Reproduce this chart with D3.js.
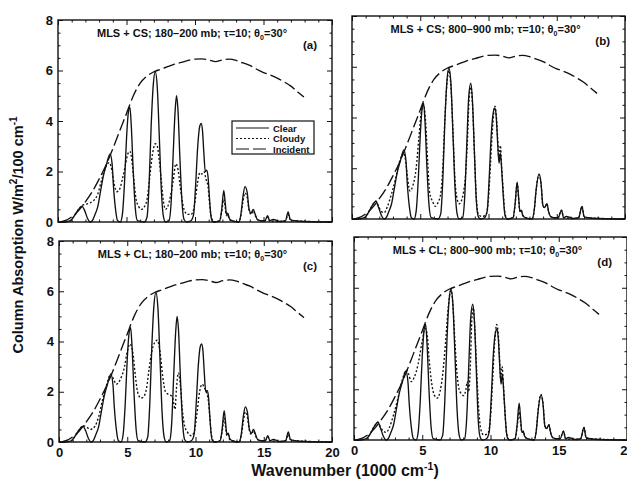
<!DOCTYPE html>
<html>
<head>
<meta charset="utf-8">
<script src="https://cdn.jsdelivr.net/npm/d3@7"></script>
<style>
  body { margin: 0; background: #fff; }
  svg text { font-family: "Liberation Sans", Arial, sans-serif; font-weight: bold; fill: #111; }
</style>
</head>
<body>
<div id="graph"></div>
<script>
// valores: [número de onda (1000 cm-1), absorción]
const incident = [[0.2,0],[0.5,0.05],[1,0.2],[1.5,0.45],[2,0.8],[2.5,1.2],[3,1.7],[3.5,2.25],[4,2.9],[4.5,3.6],[5,4.3],[5.5,5.0],[6,5.5],[6.5,5.78],[7,5.95],[7.5,6.05],[8,6.15],[8.5,6.25],[9,6.32],[9.5,6.4],[10,6.45],[10.5,6.46],[11,6.42],[11.5,6.35],[12,6.42],[12.5,6.45],[13,6.4],[13.5,6.3],[14,6.2],[14.5,6.05],[15,5.92],[15.5,5.82],[16,5.7],[16.5,5.55],[17,5.38],[17.5,5.15],[17.95,4.95]];

// cielo despejado, capa 180-200 mb
const clearHigh = [[0,0],[0.5,0],[0.9,0.05],[1.2,0.25],[1.5,0.5],[1.75,0.62],[1.95,0.45],[2.15,0.15],[2.35,0],[2.5,0.05],[2.7,0.3],[2.9,0.6],[3.1,1.2],[3.3,1.8],[3.55,2.3],[3.8,2.7],[3.95,2.3],[4.05,1.4],[4.2,0.5],[4.35,0.05],[4.55,0],[4.7,0.3],[4.85,1.5],[5.0,3.3],[5.15,4.4],[5.25,4.55],[5.35,3.8],[5.5,1.9],[5.65,0.5],[5.8,0.05],[6.3,0],[6.5,0.2],[6.65,1.5],[6.8,3.8],[6.95,5.4],[7.1,5.95],[7.25,5.3],[7.4,3.3],[7.55,1.2],[7.7,0.2],[7.85,0],[8.1,0.05],[8.25,0.7],[8.4,2.6],[8.55,4.4],[8.65,5.0],[8.75,4.5],[8.9,2.5],[9.05,0.8],[9.2,0.1],[9.4,0],[9.7,0.05],[9.9,0.3],[10.05,1.5],[10.2,3.0],[10.35,3.8],[10.45,3.9],[10.55,3.6],[10.65,2.7],[10.75,2.0],[10.85,2.05],[10.95,1.8],[11.05,1.0],[11.15,0.3],[11.25,0.05],[11.4,0],[11.8,0.05],[11.95,0.5],[12.1,1.25],[12.2,0.8],[12.3,0.3],[12.4,0.35],[12.5,0.15],[12.7,0.05],[13.2,0],[13.35,0.3],[13.5,1.0],[13.65,1.4],[13.8,1.2],[13.95,0.5],[14.1,0.35],[14.25,0.5],[14.4,0.3],[14.55,0.1],[14.8,0.05],[15.1,0.05],[15.3,0.25],[15.45,0.05],[15.7,0.1],[16.2,0.02],[16.6,0.05],[16.8,0.4],[16.95,0.1],[17.3,0.05],[18,0.02],[20,0]];

// cielo despejado, capa 800-900 mb
const clearLow = [[0,0],[0.5,0],[0.9,0.05],[1.2,0.25],[1.5,0.55],[1.75,0.7],[1.95,0.45],[2.15,0.15],[2.35,0],[2.5,0.05],[2.7,0.3],[2.9,0.6],[3.1,1.2],[3.3,1.8],[3.55,2.3],[3.8,2.72],[3.95,2.3],[4.05,1.4],[4.2,0.5],[4.35,0.05],[4.55,0],[4.7,0.3],[4.85,1.5],[5.0,3.3],[5.15,4.4],[5.25,4.55],[5.35,3.8],[5.5,1.9],[5.65,0.5],[5.8,0.05],[6.3,0],[6.5,0.2],[6.65,1.5],[6.8,3.8],[6.95,5.4],[7.1,5.95],[7.25,5.3],[7.4,3.3],[7.55,1.2],[7.7,0.2],[7.85,0],[8.1,0.05],[8.25,0.8],[8.4,2.8],[8.55,4.8],[8.7,5.35],[8.82,4.7],[8.97,2.6],[9.1,0.8],[9.25,0.1],[9.4,0],[9.7,0.05],[9.9,0.3],[10.05,1.6],[10.2,3.3],[10.35,4.2],[10.47,4.38],[10.57,4.0],[10.67,3.0],[10.77,2.2],[10.87,2.6],[10.97,1.9],[11.07,1.0],[11.17,0.3],[11.27,0.05],[11.4,0],[11.8,0.05],[11.95,0.6],[12.1,1.45],[12.2,0.9],[12.3,0.3],[12.4,0.35],[12.5,0.15],[12.7,0.05],[13.2,0],[13.35,0.35],[13.5,1.2],[13.7,1.78],[13.85,1.4],[13.98,0.55],[14.1,0.45],[14.28,0.6],[14.4,0.3],[14.55,0.1],[14.8,0.05],[15.1,0.05],[15.35,0.35],[15.5,0.05],[15.7,0.1],[16.2,0.02],[16.6,0.05],[16.85,0.5],[17.0,0.1],[17.3,0.05],[18,0.02],[20,0]];

// nublado: (a) CS 180-200, (b) CS 800-900, (c) CL 180-200, (d) CL 800-900
const cloudyA = [[0,0],[0.9,0.05],[1.2,0.25],[1.5,0.5],[1.75,0.65],[2.0,0.7],[2.3,0.75],[2.6,0.85],[2.9,1.1],[3.2,1.7],[3.5,2.2],[3.75,2.35],[3.95,2.0],[4.1,1.5],[4.3,1.2],[4.5,1.3],[4.7,1.7],[4.9,2.2],[5.1,2.7],[5.25,2.8],[5.4,2.4],[5.55,1.6],[5.7,0.9],[5.9,0.6],[6.1,0.5],[6.3,0.6],[6.5,0.9],[6.7,1.8],[6.9,2.7],[7.1,3.1],[7.25,3.0],[7.4,2.4],[7.55,1.6],[7.7,0.8],[7.85,0.5],[8.0,0.6],[8.2,1.0],[8.4,1.6],[8.6,2.3],[8.75,2.1],[8.9,1.5],[9.05,0.9],[9.2,0.5],[9.45,0.3],[9.7,0.3],[9.9,0.5],[10.05,1.0],[10.2,1.6],[10.35,1.95],[10.5,1.9],[10.65,2.0],[10.8,1.7],[10.95,1.4],[11.05,0.8],[11.15,0.3],[11.3,0.05],[11.4,0],[11.8,0.05],[11.95,0.4],[12.1,0.9],[12.2,0.6],[12.3,0.25],[12.4,0.3],[12.5,0.1],[12.7,0.05],[13.2,0],[13.35,0.25],[13.5,0.8],[13.65,1.15],[13.8,1.0],[13.95,0.45],[14.1,0.3],[14.25,0.45],[14.4,0.25],[14.55,0.1],[14.8,0.05],[15.1,0.05],[15.3,0.2],[15.45,0.05],[16.2,0.02],[16.6,0.05],[16.8,0.3],[16.95,0.1],[17.3,0.05],[20,0]];

const cloudyB = [[0,0],[0.9,0.05],[1.2,0.25],[1.5,0.55],[1.75,0.7],[1.95,0.5],[2.15,0.3],[2.35,0.25],[2.6,0.5],[2.9,1.0],[3.2,1.6],[3.5,2.3],[3.8,2.6],[3.95,2.2],[4.1,1.5],[4.25,1.1],[4.45,1.3],[4.7,2.0],[4.9,3.2],[5.1,4.3],[5.25,4.5],[5.4,3.8],[5.55,2.2],[5.7,1.0],[5.9,0.7],[6.1,0.5],[6.3,0.65],[6.5,1.0],[6.65,2.0],[6.8,3.9],[6.95,5.3],[7.1,5.85],[7.25,5.2],[7.4,3.4],[7.55,1.5],[7.7,0.8],[7.85,0.6],[8.0,0.7],[8.15,1.0],[8.3,1.6],[8.45,3.0],[8.6,4.9],[8.72,5.2],[8.82,4.6],[8.97,2.6],[9.1,0.9],[9.25,0.2],[9.5,0.1],[9.8,0.15],[10.0,0.8],[10.15,2.2],[10.3,3.6],[10.47,4.45],[10.57,4.1],[10.67,3.2],[10.77,2.3],[10.87,2.9],[10.97,2.0],[11.07,1.2],[11.17,0.4],[11.3,0.05],[11.4,0],[11.8,0.05],[11.95,0.6],[12.1,1.4],[12.2,0.85],[12.3,0.3],[12.4,0.35],[12.5,0.15],[12.7,0.05],[13.2,0],[13.35,0.35],[13.5,1.2],[13.7,1.75],[13.85,1.4],[13.98,0.55],[14.1,0.45],[14.28,0.6],[14.4,0.3],[14.55,0.1],[14.8,0.05],[15.1,0.05],[15.35,0.35],[15.5,0.05],[16.2,0.02],[16.6,0.05],[16.85,0.5],[17.0,0.1],[17.3,0.05],[20,0]];

const cloudyC = [[0,0],[0.9,0.05],[1.2,0.25],[1.5,0.5],[1.75,0.65],[2.0,0.6],[2.3,0.5],[2.6,0.6],[2.9,1.0],[3.2,1.7],[3.5,2.3],[3.8,2.7],[4.0,2.5],[4.2,2.3],[4.5,2.5],[4.8,3.0],[5.0,3.6],[5.2,3.9],[5.4,3.6],[5.6,2.6],[5.8,1.9],[6.0,1.75],[6.2,1.8],[6.4,2.1],[6.6,2.9],[6.8,3.6],[7.0,3.95],[7.2,4.05],[7.4,3.6],[7.6,2.6],[7.8,2.0],[8.0,1.9],[8.2,1.85],[8.35,1.7],[8.5,1.3],[8.6,2.1],[8.75,2.75],[8.9,2.2],[9.05,1.2],[9.2,0.65],[9.4,0.4],[9.7,0.25],[9.9,0.4],[10.1,1.1],[10.3,2.0],[10.5,2.3],[10.65,2.15],[10.8,2.0],[10.95,1.6],[11.05,1.0],[11.15,0.35],[11.3,0.05],[11.4,0],[11.8,0.05],[11.95,0.4],[12.1,0.95],[12.2,0.6],[12.3,0.25],[12.4,0.3],[12.5,0.1],[12.7,0.05],[13.2,0],[13.35,0.25],[13.5,0.8],[13.65,1.2],[13.8,1.0],[13.95,0.45],[14.1,0.3],[14.25,0.45],[14.4,0.25],[14.55,0.1],[14.8,0.05],[15.1,0.05],[15.3,0.2],[15.45,0.05],[16.2,0.02],[16.6,0.05],[16.8,0.3],[16.95,0.1],[17.3,0.05],[20,0]];

const cloudyD = [[0,0],[0.9,0.05],[1.2,0.25],[1.5,0.55],[1.75,0.7],[1.95,0.5],[2.15,0.35],[2.35,0.3],[2.6,0.5],[2.9,1.0],[3.2,1.6],[3.5,2.3],[3.85,2.75],[4.0,2.6],[4.2,2.3],[4.4,2.45],[4.7,3.0],[5.0,3.9],[5.2,4.4],[5.35,4.2],[5.5,3.2],[5.7,2.2],[5.9,1.75],[6.1,1.65],[6.3,1.9],[6.5,2.6],[6.7,3.8],[6.9,5.2],[7.1,5.9],[7.25,5.3],[7.4,3.8],[7.55,2.6],[7.7,2.0],[7.9,1.8],[8.05,1.75],[8.2,2.0],[8.3,2.3],[8.4,1.9],[8.5,2.6],[8.65,4.9],[8.75,5.2],[8.85,4.4],[9.0,2.6],[9.15,1.1],[9.3,0.4],[9.5,0.2],[9.8,0.25],[10.0,0.9],[10.15,2.3],[10.3,3.8],[10.45,4.55],[10.55,4.3],[10.65,3.4],[10.75,2.4],[10.85,2.9],[10.95,2.1],[11.05,1.2],[11.15,0.4],[11.3,0.05],[11.4,0],[11.8,0.05],[11.95,0.5],[12.1,1.1],[12.2,0.7],[12.3,0.3],[12.4,0.35],[12.5,0.15],[12.7,0.05],[13.2,0],[13.35,0.35],[13.5,1.25],[13.7,1.8],[13.85,1.45],[13.98,0.6],[14.1,0.45],[14.28,0.6],[14.4,0.3],[14.55,0.1],[14.8,0.05],[15.1,0.05],[15.35,0.35],[15.5,0.05],[16.2,0.02],[16.6,0.05],[16.85,0.5],[17.0,0.1],[17.3,0.05],[20,0]];

const xTicks = [0, 5, 10, 15, 20];
const yTicks = [0, 2, 4, 6, 8];
const legendLabels = ["Clear", "Cloudy", "Incident"];

const panels = [
  { tag: "(a)", model: "CS", layer: "180–200", clear: clearHigh, cloudy: cloudyA, x0: 58, x1: 332, yb: 222, yt: 20, xLab: false, yLab: true, legend: true },
  { tag: "(b)", model: "CS", layer: "800–900", clear: clearLow, cloudy: cloudyB, x0: 352, x1: 625, yb: 219, yt: 16, xLab: false, yLab: false },
  { tag: "(c)", model: "CL", layer: "180–200", clear: clearHigh, cloudy: cloudyC, x0: 59, x1: 332, yb: 442, yt: 241, xLab: true, yLab: true },
  { tag: "(d)", model: "CL", layer: "800–900", clear: clearLow, cloudy: cloudyD, x0: 354, x1: 627, yb: 440, yt: 237, xLab: true, yLab: false }
];

const width = 627, height = 483;
const svg = d3.select("#graph").append("svg")
  .attr("width", width)
  .attr("height", height);

const estilos = {
  clear: { dash: null },
  cloudy: { dash: "2,2" },
  incident: { dash: "12,4" }
};

panels.forEach(p => {
  const x = d3.scaleLinear().domain([0, 20]).range([p.x0, p.x1]);
  const y = d3.scaleLinear().domain([0, 8]).range([p.yb, p.yt]);
  const g = svg.append("g");

  // marco
  g.append("rect")
    .attr("x", p.x0).attr("y", p.yt)
    .attr("width", p.x1 - p.x0).attr("height", p.yb - p.yt)
    .attr("fill", "none").attr("stroke", "#111").attr("stroke-width", 1.4);

  // ejes con marcas hacia dentro en los cuatro lados
  const ejeAbajo = d3.axisBottom(x).tickValues(xTicks).tickSize(-5).tickPadding(6).tickFormat(p.xLab ? d3.format("d") : "");
  const ejeArriba = d3.axisTop(x).tickValues(xTicks).tickSize(-5).tickFormat("");
  const ejeIzq = d3.axisLeft(y).tickValues(yTicks).tickSize(-5).tickPadding(5).tickFormat(p.yLab ? d3.format("d") : "");
  const ejeDer = d3.axisRight(y).tickValues(yTicks).tickSize(-5).tickFormat("");
  const menorX = d3.range(0, 20.01, 1).filter(v => v % 5 !== 0);
  const menorY = d3.range(0, 8.01, 0.5).filter(v => v % 2 !== 0);

  [[d3.axisBottom(x).tickValues(menorX), p.yb], [d3.axisTop(x).tickValues(menorX), p.yt]].forEach(([a, ty]) => {
    g.append("g").attr("transform", `translate(0,${ty})`).call(a.tickSize(-2.5).tickFormat(""));
  });
  [[d3.axisLeft(y).tickValues(menorY), p.x0], [d3.axisRight(y).tickValues(menorY), p.x1]].forEach(([a, tx]) => {
    g.append("g").attr("transform", `translate(${tx},0)`).call(a.tickSize(-2.5).tickFormat(""));
  });
  g.append("g").attr("transform", `translate(0,${p.yb})`).call(ejeAbajo);
  g.append("g").attr("transform", `translate(0,${p.yt})`).call(ejeArriba);
  g.append("g").attr("transform", `translate(${p.x0},0)`).call(ejeIzq);
  g.append("g").attr("transform", `translate(${p.x1},0)`).call(ejeDer);

  g.selectAll(".domain").remove();
  g.selectAll(".tick line").attr("stroke", "#111").attr("stroke-width", 1);
  g.selectAll(".tick text").style("font-size", "13px").style("font-family", "Liberation Sans, Arial, sans-serif").style("font-weight", "bold").attr("fill", "#111");

  const line = d3.line()
    .x(d => x(d[0]))
    .y(d => y(d[1]))
    .curve(d3.curveMonotoneX);

  [["incident", incident], ["cloudy", p.cloudy], ["clear", p.clear]].forEach(([k, datos]) => {
    g.append("path")
      .datum(datos)
      .attr("d", line)
      .attr("fill", "none")
      .attr("stroke", "#111")
      .attr("stroke-width", 1.35)
      .attr("stroke-dasharray", estilos[k].dash);
  });

  // título del panel
  const t = g.append("text")
    .attr("x", (p.x0 + p.x1) / 2 - 3)
    .attr("y", p.yt + 17)
    .attr("text-anchor", "middle")
    .style("font-size", "11px");
  t.append("tspan").text(`MLS + ${p.model}; ${p.layer} mb; τ=10; θ`);
  t.append("tspan").attr("dy", 2.5).style("font-size", "7px").text("0");
  t.append("tspan").attr("dy", -2.5).text("=30°");

  g.append("text")
    .attr("x", p.x1 - 15)
    .attr("y", p.yt + 29)
    .attr("text-anchor", "end")
    .style("font-size", "11.5px")
    .text(p.tag);

  if (p.legend) {
    const lx = 232, ly = 121;
    g.append("rect")
      .attr("x", lx).attr("y", ly).attr("width", 82).attr("height", 33)
      .attr("fill", "#fff").attr("stroke", "#111").attr("stroke-width", 1.2);
    legendLabels.forEach((lab, i) => {
      const yy = ly + 7 + i * 10.5;
      const k = lab.toLowerCase();
      g.append("line")
        .attr("x1", lx + 4).attr("x2", lx + 37)
        .attr("y1", yy).attr("y2", yy)
        .attr("stroke", "#111").attr("stroke-width", 1.2)
        .attr("stroke-dasharray", k === "incident" ? "13,4" : estilos[k].dash);
      g.append("text")
        .attr("x", lx + 41).attr("y", yy + 3.5)
        .style("font-size", "9.5px")
        .text(lab);
    });
  }
});

// títulos de los ejes
const yt = svg.append("text")
  .attr("transform", "translate(23,235) rotate(-90)")
  .attr("text-anchor", "middle")
  .style("font-size", "14.5px");
yt.append("tspan").text("Column Absorption W/m");
yt.append("tspan").attr("dy", -6).style("font-size", "10px").text("2");
yt.append("tspan").attr("dy", 6).text("/100 cm");
yt.append("tspan").attr("dy", -6).style("font-size", "10px").text("-1");

const xt = svg.append("text")
  .attr("x", 345)
  .attr("y", 476)
  .attr("text-anchor", "middle")
  .style("font-size", "16px");
xt.append("tspan").text("Wavenumber (1000 cm");
xt.append("tspan").attr("dy", -6).style("font-size", "10.5px").text("-1");
xt.append("tspan").attr("dy", 6).text(")");
</script>
</body>
</html>
